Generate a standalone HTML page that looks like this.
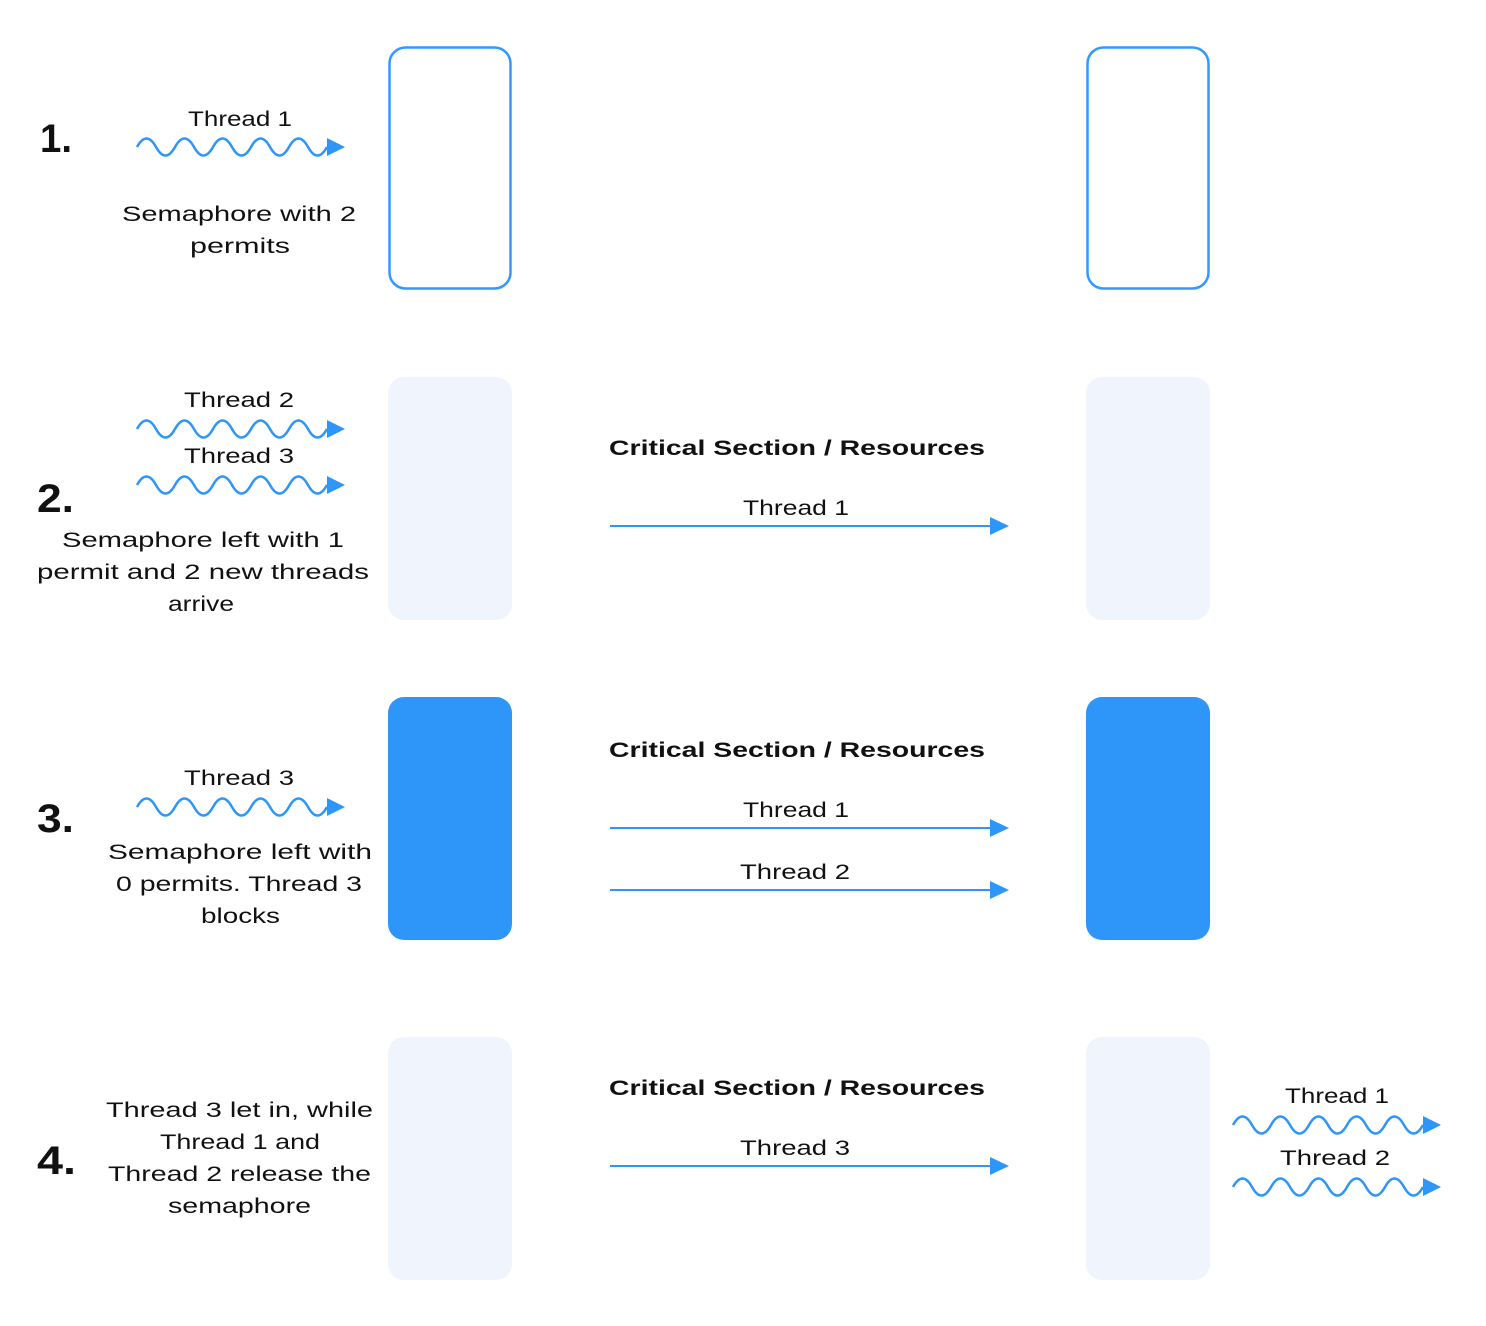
<!DOCTYPE html>
<html><head><meta charset="utf-8"><style>
html,body{margin:0;padding:0;background:#fff;}
svg{display:block;}
text{font-family:"Liberation Sans",sans-serif;fill:#111;}
.t{font-size:21px;}
.n{font-size:40px;font-weight:bold;}
.c{font-size:21px;font-weight:bold;}
.w{fill:none;stroke:#2e96f8;stroke-width:2.5;}
.l{stroke:#2e96f8;stroke-width:2;}
.h{fill:#2e96f8;}
</style></head><body>
<svg width="1486" height="1326" viewBox="0 0 1486 1326" xmlns="http://www.w3.org/2000/svg">
<defs>
<g id="wave"><path class="w" d="M0 0 q9.5 -17 19 0 t19 0 t19 0 t19 0 t19 0 t19 0 t19 0 t19 0 t19 0 t19 0"/><polygon class="h" points="190,-9 208,0 190,9"/></g>
<g id="arr"><line class="l" x1="610" y1="0" x2="992" y2="0"/><polygon class="h" points="990,-9 1009,0 990,9"/></g>
</defs>
<rect x="389.5" y="47.5" width="121" height="241" rx="16" fill="#fff" stroke="#3399ff" stroke-width="2.5"/>
<rect x="1087.5" y="47.5" width="121" height="241" rx="16" fill="#fff" stroke="#3399ff" stroke-width="2.5"/>
<rect x="388" y="377" width="124" height="243" rx="16" fill="#f0f5fd"/>
<rect x="1086" y="377" width="124" height="243" rx="16" fill="#f0f5fd"/>
<rect x="388" y="697" width="124" height="243" rx="16" fill="#2e96f8"/>
<rect x="1086" y="697" width="124" height="243" rx="16" fill="#2e96f8"/>
<rect x="388" y="1037" width="124" height="243" rx="16" fill="#f0f5fd"/>
<rect x="1086" y="1037" width="124" height="243" rx="16" fill="#f0f5fd"/>

<text class="n" x="40" y="152" textLength="32" lengthAdjust="spacingAndGlyphs">1.</text>
<text class="t" x="188" y="126" textLength="104" lengthAdjust="spacingAndGlyphs">Thread 1</text>
<use href="#wave" x="137" y="147"/>
<text class="t" x="122" y="221" textLength="234" lengthAdjust="spacingAndGlyphs">Semaphore with 2</text>
<text class="t" x="190" y="253" textLength="100" lengthAdjust="spacingAndGlyphs">permits</text>

<text class="n" x="37" y="512" textLength="37" lengthAdjust="spacingAndGlyphs">2.</text>
<text class="t" x="184" y="407" textLength="110" lengthAdjust="spacingAndGlyphs">Thread 2</text>
<use href="#wave" x="137" y="429"/>
<text class="t" x="184" y="463" textLength="110" lengthAdjust="spacingAndGlyphs">Thread 3</text>
<use href="#wave" x="137" y="485"/>
<text class="t" x="62" y="547" textLength="282" lengthAdjust="spacingAndGlyphs">Semaphore left with 1</text>
<text class="t" x="37" y="579" textLength="332" lengthAdjust="spacingAndGlyphs">permit and 2 new threads</text>
<text class="t" x="168" y="611" textLength="66" lengthAdjust="spacingAndGlyphs">arrive</text>
<text class="c" x="609" y="455" textLength="376" lengthAdjust="spacingAndGlyphs">Critical Section / Resources</text>
<text class="t" x="743" y="515" textLength="106" lengthAdjust="spacingAndGlyphs">Thread 1</text>
<use href="#arr" y="526"/>

<text class="n" x="37" y="832" textLength="37" lengthAdjust="spacingAndGlyphs">3.</text>
<text class="t" x="184" y="785" textLength="110" lengthAdjust="spacingAndGlyphs">Thread 3</text>
<use href="#wave" x="137" y="807"/>
<text class="t" x="108" y="859" textLength="264" lengthAdjust="spacingAndGlyphs">Semaphore left with</text>
<text class="t" x="116" y="891" textLength="246" lengthAdjust="spacingAndGlyphs">0 permits. Thread 3</text>
<text class="t" x="201" y="923" textLength="79" lengthAdjust="spacingAndGlyphs">blocks</text>
<text class="c" x="609" y="757" textLength="376" lengthAdjust="spacingAndGlyphs">Critical Section / Resources</text>
<text class="t" x="743" y="817" textLength="106" lengthAdjust="spacingAndGlyphs">Thread 1</text>
<use href="#arr" y="828"/>
<text class="t" x="740" y="879" textLength="110" lengthAdjust="spacingAndGlyphs">Thread 2</text>
<use href="#arr" y="890"/>

<text class="n" x="37" y="1174" textLength="39" lengthAdjust="spacingAndGlyphs">4.</text>
<text class="t" x="106" y="1117" textLength="267" lengthAdjust="spacingAndGlyphs">Thread 3 let in, while</text>
<text class="t" x="160" y="1149" textLength="160" lengthAdjust="spacingAndGlyphs">Thread 1 and</text>
<text class="t" x="108" y="1181" textLength="263" lengthAdjust="spacingAndGlyphs">Thread 2 release the</text>
<text class="t" x="168" y="1213" textLength="143" lengthAdjust="spacingAndGlyphs">semaphore</text>
<text class="c" x="609" y="1095" textLength="376" lengthAdjust="spacingAndGlyphs">Critical Section / Resources</text>
<text class="t" x="740" y="1155" textLength="110" lengthAdjust="spacingAndGlyphs">Thread 3</text>
<use href="#arr" y="1166"/>
<text class="t" x="1285" y="1103" textLength="104" lengthAdjust="spacingAndGlyphs">Thread 1</text>
<use href="#wave" x="1233" y="1125"/>
<text class="t" x="1280" y="1165" textLength="110" lengthAdjust="spacingAndGlyphs">Thread 2</text>
<use href="#wave" x="1233" y="1187"/>
</svg>
</body></html>
